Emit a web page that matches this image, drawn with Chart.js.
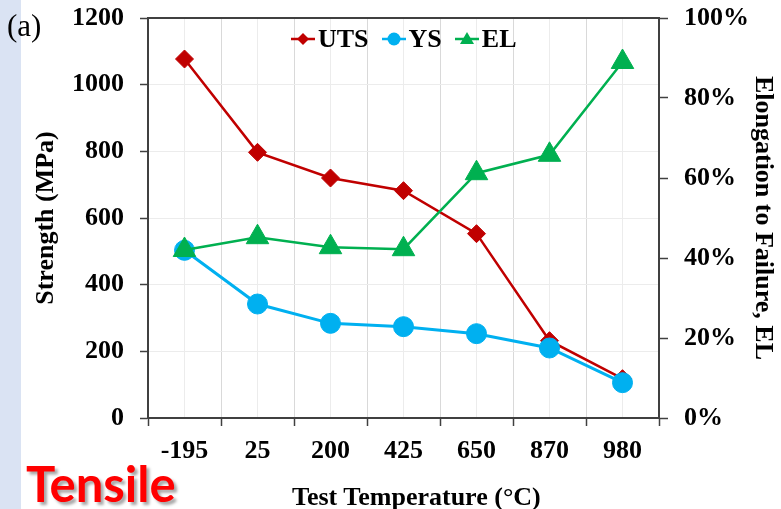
<!DOCTYPE html>
<html>
<head>
<meta charset="utf-8">
<title>Tensile</title>
<script src="https://cdn.jsdelivr.net/npm/chart.js@4.4.1/dist/chart.umd.min.js"></script>
<style>
  html, body { margin: 0; padding: 0; background: #fff; }
  #wrap { position: relative; width: 781px; height: 509px; overflow: hidden; }
  #strip { position: absolute; left: 0; top: 0; width: 21px; height: 509px; background: #dae3f3; }
  #chart { position: absolute; left: 0; top: 0; }
  .note { position: absolute; line-height: 1; white-space: nowrap; }
  #panel { left: 7px; top: 8px; font: 31px 'Liberation Serif', serif; color: #000; }
  #xtitle { left: 292px; top: 482px; font: bold 26px 'Liberation Serif', serif; color: #000; }
  #tag { left: 26px; top: 454px; font: bold 49px Lato, sans-serif; color: #ff0000; text-shadow: 3px 3px 3px rgba(0,0,0,0.35); }
  #legend { position: absolute; left: 291px; top: 26px; display: flex; align-items: center; gap: 13px;
            font: bold 26px 'Liberation Serif', serif; color: #000; line-height: 1; }
  #legend .item { display: flex; align-items: center; gap: 3px; }
  #legend canvas { display: block; }
</style>
</head>
<body>
<div id="wrap">
  <div id="strip"></div>
  <canvas id="chart" width="781" height="509"></canvas>
  <div class="note" id="panel">(a)</div>
  <div id="legend"></div>
  <div class="note" id="xtitle">Test Temperature (°C)</div>
  <div class="note" id="tag">Tensile</div>
</div>
<script>
// values
const categories = ['-195', '25', '200', '425', '650', '870', '980'];
const utsValues = [1077, 797, 720, 682, 553, 232, 118];
const ysValues = [503, 342, 284, 274, 253, 210, 106];
const elValues = [42, 45.2, 42.7, 42.2, 61.2, 65.8, 89];
const strengthTicks = [0, 200, 400, 600, 800, 1000, 1200];
const elongationTicks = [0, 20, 40, 60, 80, 100];

const serif = "'Liberation Serif', 'Times New Roman', serif";
const tickFont = { family: serif, size: 26, weight: 'bold' };
const axisColor = '#404040';

const series = [
    { label: 'UTS', data: utsValues, axis: 'y', color: '#c00000', shape: 'rectRot', radius: 9, width: 2.5, order: 2 },
    { label: 'YS', data: ysValues, axis: 'y', color: '#00b0f0', shape: 'circle', radius: 10, width: 3, order: 1 },
    { label: 'EL', data: elValues, axis: 'y1', color: '#00b050', shape: 'triangle', radius: 13, width: 2.5, order: 0 }
];

// small "line + marker" icon for the html legend
function legendIcon(s) {
    const c = document.createElement('canvas');
    c.width = 24;
    c.height = 22;
    const g = c.getContext('2d');
    g.strokeStyle = s.color;
    g.fillStyle = s.color;
    g.lineWidth = 2.5;
    g.beginPath();
    g.moveTo(0, 11);
    g.lineTo(24, 11);
    g.stroke();
    const cx = 12, cy = 11;
    g.beginPath();
    if (s.shape === 'rectRot') {
        g.moveTo(cx, cy - 6);
        g.lineTo(cx + 6, cy);
        g.lineTo(cx, cy + 6);
        g.lineTo(cx - 6, cy);
        g.closePath();
    } else if (s.shape === 'circle') {
        g.arc(cx, cy, 6.5, 0, Math.PI * 2);
    } else {
        g.moveTo(cx, cy - 7);
        g.lineTo(cx + 7, cy + 5);
        g.lineTo(cx - 7, cy + 5);
        g.closePath();
    }
    g.fill();
    return c;
}

const legendBox = document.getElementById('legend');
series.forEach(s => {
    const item = document.createElement('div');
    item.className = 'item';
    item.appendChild(legendIcon(s));
    const span = document.createElement('span');
    span.textContent = s.label;
    item.appendChild(span);
    legendBox.appendChild(item);
});

// top edge of the plot frame
const frameTop = {
    id: 'frameTop',
    beforeDatasetsDraw(chart) {
        const { ctx, chartArea: a } = chart;
        ctx.save();
        ctx.strokeStyle = axisColor;
        ctx.lineWidth = 2;
        ctx.beginPath();
        ctx.moveTo(a.left, a.top);
        ctx.lineTo(a.right, a.top);
        ctx.stroke();
        ctx.restore();
    }
};

new Chart(document.getElementById('chart'), {
    type: 'line',
    data: {
        labels: categories,
        datasets: series.map(s => ({
            label: s.label,
            data: s.data,
            yAxisID: s.axis,
            borderColor: s.color,
            backgroundColor: s.color,
            borderWidth: s.width,
            pointStyle: s.shape,
            pointRadius: s.radius,
            pointBorderWidth: 1,
            order: s.order
        }))
    },
    options: {
        responsive: false,
        animation: false,
        layout: { padding: { top: 18, left: 0, right: 0, bottom: 0 } },
        plugins: {
            tooltip: { enabled: false },
            legend: { display: false }
        },
        scales: {
            x: {
                offset: true,
                grid: { offset: true, color: '#d9d9d9', tickColor: axisColor, tickLength: 8, tickWidth: 1.5 },
                border: { color: axisColor, width: 2 },
                ticks: { color: '#000', font: tickFont, padding: 10, maxRotation: 0, autoSkip: false },
                afterFit: s => { s.height = 91; }
            },
            x2: {
                type: 'category',
                position: 'bottom',
                offset: true,
                grid: { offset: false, color: '#ececec', drawTicks: false },
                border: { display: false },
                ticks: { display: false },
                afterFit: s => { s.height = 0; }
            },
            y: {
                position: 'left',
                min: 0,
                max: 1200,
                ticks: {
                    stepSize: 100,
                    color: '#000',
                    font: tickFont,
                    padding: 16,
                    callback: v => strengthTicks.includes(v) ? v : ''
                },
                grid: {
                    color: '#ececec',
                    tickLength: 8,
                    tickWidth: 1.5,
                    tickColor: ctx => strengthTicks.includes(ctx.tick.value) ? axisColor : 'rgba(0,0,0,0)'
                },
                border: { color: axisColor, width: 2 },
                title: { display: true, text: 'Strength (MPa)', color: '#000', font: tickFont, padding: { top: 31 } },
                afterFit: s => { s.width = 148; s.paddingTop = 0; s.paddingBottom = 0; }
            },
            y1: {
                position: 'right',
                min: 0,
                max: 100,
                afterBuildTicks: s => { s.ticks = elongationTicks.map(v => ({ value: v })); },
                ticks: { color: '#000', font: tickFont, padding: 16, callback: v => v + '%' },
                grid: { drawOnChartArea: false, tickColor: axisColor, tickLength: 9, tickWidth: 1.5 },
                border: { color: axisColor, width: 2 },
                title: { display: true, text: 'Elongation to Failure, EL', color: '#000', font: tickFont, padding: { top: 3 } },
                afterFit: s => { s.width = 122; s.paddingTop = 0; s.paddingBottom = 0; }
            }
        }
    },
    plugins: [frameTop]
});
</script>
</body>
</html>
